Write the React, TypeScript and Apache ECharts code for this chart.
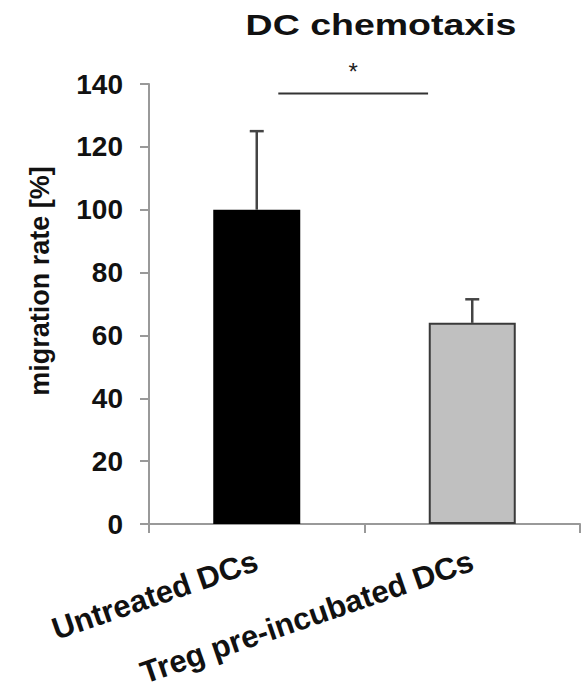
import React, { useEffect, useRef } from "react";
import * as echarts from "echarts";

const categories = ["Untreated DCs", "Treg pre-incubated DCs"];
const means = [100, 64];
const errorsUp = [25, 7.5];
const barColors = ["#000000", "#c0c0c0"];
const barBorders = ["#000000", "#3a3a3a"];
const yMin = 0;
const yMax = 140;
const yInterval = 20;
const titleText = "DC chemotaxis";
const yName = "migration rate [%]";
// significance bracket: from category 0 to 1, at value level
const sigPairs = [[0, 1, 137]];
const sigLabel = "*";

const FONT = "'Liberation Sans', Arial, Helvetica, sans-serif";

export default function App() {
  const ref = useRef<HTMLDivElement>(null);
  useEffect(() => {
    if (!ref.current) return;
    document.body.style.margin = "0";
    document.body.style.overflow = "hidden";
    const chart = echarts.init(ref.current, null, { renderer: "svg" });
    const option: any = {
      animation: false,
      backgroundColor: "#ffffff",
      grid: { left: 149, right: 6, top: 84, bottom: 165, containLabel: false, outerBoundsMode: "none" },
      graphic: [
        {
          type: "text",
          x: 381,
          y: 24,
          scaleX: 1.25,
          style: {
            text: titleText,
            font: `bold 30px ${FONT}`,
            fill: "#111",
            align: "center",
            verticalAlign: "middle",
          },
        },
      ],
      xAxis: {
        type: "category",
        data: categories,
        axisLine: { lineStyle: { color: "#999", width: 2 } },
        axisTick: { show: true, length: 9, alignWithLabel: false, lineStyle: { color: "#999", width: 2 } },
        axisLabel: {
          rotate: 19,
          margin: 36,
          interval: 0,
          color: "#111",
          fontFamily: FONT,
          fontWeight: "bold",
          fontSize: 31,
        },
      },
      yAxis: {
        type: "value",
        min: yMin,
        max: yMax,
        interval: yInterval,
        name: yName,
        nameLocation: "middle",
        nameGap: 96,
        nameTextStyle: {
          color: "#111",
          fontFamily: FONT,
          fontWeight: "bold",
          fontSize: 27,
          padding: [0, 0, 0, 46],
        },
        splitLine: { show: false },
        axisLine: { show: true, lineStyle: { color: "#999", width: 2 } },
        axisTick: { show: true, length: 9, lineStyle: { color: "#999", width: 2 } },
        axisLabel: {
          margin: 26,
          color: "#111",
          fontFamily: FONT,
          fontWeight: "bold",
          fontSize: 28,
        },
      },
      series: [
        {
          type: "bar",
          barWidth: 87,
          data: means.map((v, i) => ({
            value: v,
            itemStyle: { color: barColors[i], borderColor: barBorders[i], borderWidth: 2 },
          })),
          z: 2,
        },
        {
          type: "custom",
          z: 3,
          data: means.map((v, i) => [i, v, v + errorsUp[i]]),
          renderItem: (params: any, api: any) => {
            const x = api.value(0);
            const p0 = api.coord([x, api.value(1)]);
            const p1 = api.coord([x, api.value(2)]);
            const hw = 7;
            return {
              type: "group",
              children: [
                { type: "line", shape: { x1: p0[0], y1: p0[1], x2: p1[0], y2: p1[1] }, style: { stroke: "#444", lineWidth: 2.5 } },
                { type: "line", shape: { x1: p1[0] - hw, y1: p1[1], x2: p1[0] + hw, y2: p1[1] }, style: { stroke: "#444", lineWidth: 2.5 } },
              ],
            };
          },
        },
        {
          type: "custom",
          z: 3,
          data: sigPairs,
          renderItem: (params: any, api: any) => {
            const a = api.coord([api.value(0), api.value(2)]);
            const b = api.coord([api.value(1), api.value(2)]);
            const band = api.size([1, 0])[0];
            const x1 = a[0] + band * 0.1;
            const x2 = b[0] - band * 0.205;
            return {
              type: "group",
              children: [
                { type: "line", shape: { x1, y1: a[1], x2, y2: a[1] }, style: { stroke: "#333", lineWidth: 2 } },
                {
                  type: "text",
                  x: (x1 + x2) / 2,
                  y: a[1] - 22,
                  style: { text: sigLabel, font: `24px ${FONT}`, fill: "#222", align: "center", verticalAlign: "middle" },
                },
              ],
            };
          },
        },
      ],
    };
    chart.setOption(option);
    return () => chart.dispose();
  }, []);
  return <div ref={ref} style={{ width: 586, height: 689 }} />;
}
